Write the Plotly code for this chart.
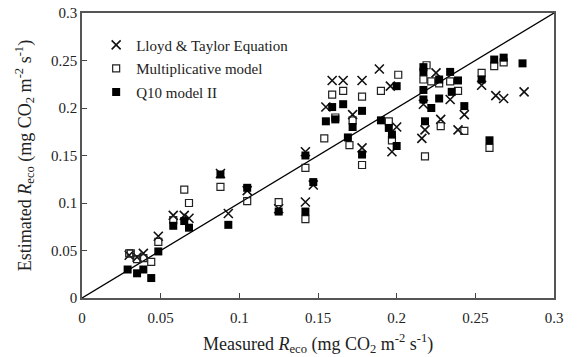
import plotly.graph_objects as go

# Lloyd & Taylor Equation (crosses)
lt_x = [0.030, 0.035, 0.039, 0.0485, 0.058, 0.065, 0.068, 0.088, 0.093, 0.105, 0.125,
        0.142, 0.142, 0.147, 0.155, 0.159, 0.166, 0.178, 0.172, 0.178, 0.189, 0.196,
        0.200, 0.197, 0.217, 0.218, 0.216, 0.225, 0.228, 0.234, 0.239, 0.243, 0.254,
        0.263, 0.268, 0.281]
lt_y = [0.045, 0.043, 0.047, 0.065, 0.087, 0.087, 0.084, 0.131, 0.089, 0.113, 0.094,
        0.101, 0.154, 0.119, 0.201, 0.229, 0.229, 0.229, 0.193, 0.158, 0.241, 0.223,
        0.180, 0.154, 0.204, 0.177, 0.168, 0.237, 0.188, 0.209, 0.177, 0.193, 0.224,
        0.213, 0.210, 0.217]

# Multiplicative model (open squares)
mm_x = [0.030, 0.031, 0.035, 0.039, 0.044, 0.0485, 0.058, 0.065, 0.068, 0.088, 0.105,
        0.125, 0.142, 0.142, 0.154, 0.159, 0.161, 0.166, 0.170, 0.172, 0.178, 0.178,
        0.190, 0.195, 0.197, 0.201, 0.217, 0.219, 0.218, 0.222, 0.227, 0.228, 0.234,
        0.239, 0.243, 0.254, 0.259, 0.262, 0.268]
mm_y = [0.047, 0.047, 0.041, 0.042, 0.038, 0.059, 0.082, 0.114, 0.100, 0.117, 0.102,
        0.101, 0.083, 0.137, 0.168, 0.214, 0.190, 0.218, 0.161, 0.187, 0.212, 0.140,
        0.218, 0.186, 0.166, 0.235, 0.230, 0.245, 0.149, 0.228, 0.226, 0.181, 0.228,
        0.218, 0.176, 0.237, 0.158, 0.244, 0.248]

# Q10 model II (filled squares)
q10_x = [0.029, 0.035, 0.039, 0.044, 0.0485, 0.058, 0.065, 0.068, 0.088, 0.093, 0.105,
         0.125, 0.142, 0.142, 0.147, 0.155, 0.159, 0.161, 0.166, 0.169, 0.172, 0.178,
         0.178, 0.190, 0.195, 0.197, 0.200, 0.200, 0.217, 0.217, 0.217, 0.217, 0.222,
         0.218, 0.227, 0.227, 0.234, 0.239, 0.235, 0.243, 0.254, 0.259, 0.262, 0.268,
         0.280]
q10_y = [0.030, 0.026, 0.030, 0.021, 0.049, 0.076, 0.081, 0.074, 0.130, 0.077, 0.116,
         0.091, 0.091, 0.150, 0.122, 0.186, 0.201, 0.188, 0.204, 0.169, 0.180, 0.197,
         0.151, 0.187, 0.179, 0.172, 0.160, 0.223, 0.243, 0.238, 0.219, 0.209, 0.200,
         0.186, 0.230, 0.210, 0.238, 0.229, 0.217, 0.202, 0.230, 0.166, 0.251, 0.253,
         0.247]

line_x = [0, 0.3]
line_y = [0, 0.3]

tick_vals = [0, 0.05, 0.1, 0.15, 0.2, 0.25, 0.3]
tick_text = ["0", "0.05", "0.1", "0.15", "0.2", "0.25", "0.3"]

x_title = "Measured <i>R</i><sub>eco</sub> (mg CO<sub>2</sub> m<sup>-2</sup> s<sup>-1</sup>)"
y_title = "Estimated <i>R</i><sub>eco</sub> (mg CO<sub>2</sub> m<sup>-2</sup> s<sup>-1</sup>)"

FONT = "Liberation Serif, Times New Roman, serif"

fig = go.Figure()
fig.add_trace(go.Scatter(x=line_x, y=line_y, mode="lines",
                         line=dict(color="black", width=1.3), showlegend=False,
                         hoverinfo="skip"))
fig.add_trace(go.Scatter(x=lt_x, y=lt_y, mode="markers", name="Lloyd & Taylor Equation",
                         legendgroup="a",
                         marker=dict(symbol="x-thin-open", size=9, color="#111",
                                     line=dict(color="#111", width=1.6))))
fig.add_trace(go.Scatter(x=mm_x, y=mm_y, mode="markers", name="Multiplicative model",
                         legendgroup="b",
                         marker=dict(symbol="square-open", size=7, color="#222",
                                     line=dict(color="#222", width=1.2))))
fig.add_trace(go.Scatter(x=q10_x, y=q10_y, mode="markers", name="Q10 model II",
                         legendgroup="c",
                         marker=dict(symbol="square", size=8, color="black",
                                     line=dict(width=0))))

axis_common = dict(
    range=[0, 0.3], tickvals=tick_vals, ticktext=tick_text,
    ticks="inside", ticklen=5, tickwidth=1.2, tickcolor="#444",
    showline=True, linecolor="#555", linewidth=1.5, mirror=True,
    showgrid=False, zeroline=False, automargin=False,
    tickfont=dict(family=FONT, size=15, color="#222"),
)

fig.update_layout(
    width=579, height=357,
    margin=dict(l=82, r=25, t=13, b=59),
    paper_bgcolor="white", plot_bgcolor="white",
    font=dict(family=FONT, color="#222"),
    xaxis=dict(**axis_common, ticklabelstandoff=5),
    yaxis=dict(**axis_common,
               title=dict(text=y_title,
                          font=dict(family=FONT, size=18, color="#222"))),
    legend=dict(x=0.03, y=0.945, xanchor="left", yanchor="top",
                bgcolor="rgba(0,0,0,0)", borderwidth=0,
                font=dict(family=FONT, size=15, color="#222"),
                traceorder="grouped", tracegroupgap=1, itemwidth=30),
    showlegend=True,
    annotations=[dict(text=x_title, xref="paper", yref="paper", x=0.5, y=-0.16,
                      xanchor="center", yanchor="middle", showarrow=False,
                      font=dict(family=FONT, size=18, color="#222"))],
)

fig.write_html("out.html")
